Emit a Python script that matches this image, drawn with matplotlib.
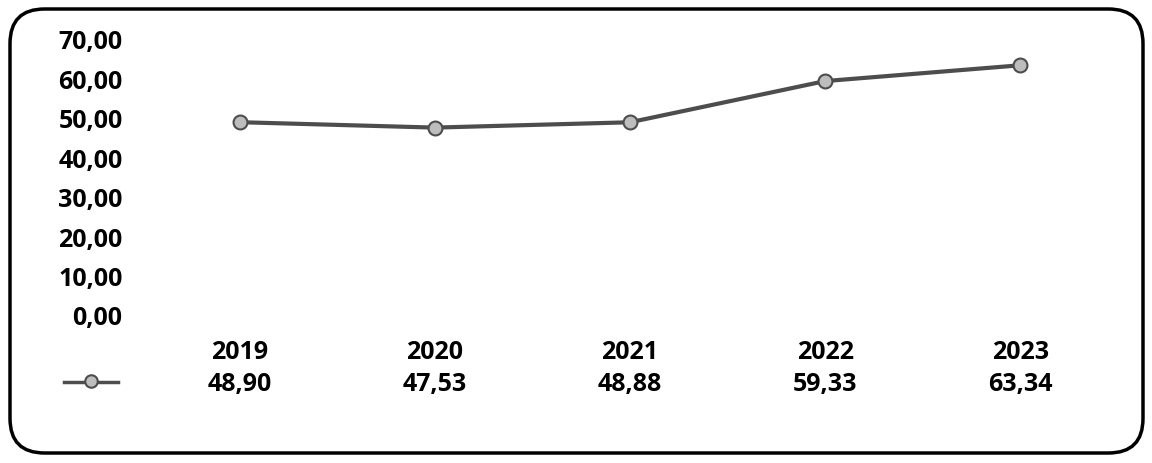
import matplotlib.pyplot as plt
import matplotlib.transforms as mtransforms
from matplotlib.patches import FancyBboxPatch
from matplotlib.lines import Line2D

# Data
years = ["2019", "2020", "2021", "2022", "2023"]
values = [48.90, 47.53, 48.88, 59.33, 63.34]
yticks = [0, 10, 20, 30, 40, 50, 60, 70]

plt.rcParams["font.family"] = ["Open Sans", "DejaVu Sans"]
plt.rcParams["font.weight"] = "bold"
FS = 18

W, H = 1152, 464
fig = plt.figure(figsize=(W / 100, H / 100), dpi=100)

# Rounded frame
frame = FancyBboxPatch((10 / W, 10 / H), 1133 / W, 444 / H,
                       boxstyle="round,pad=0,rounding_size=0.03",
                       transform=fig.transFigure, fill=False,
                       edgecolor="black", linewidth=2.5,
                       mutation_aspect=W / H)
fig.patches.append(frame)

ax = fig.add_axes([142 / W, 1 - 316 / H, (1118 - 142) / W, (316 - 40) / H])
x = list(range(len(years)))
ax.plot(x, values, color="#4d4d4d", linewidth=3, marker="o", markersize=10,
        markerfacecolor="#bdbdbd", markeredgecolor="#4d4d4d", markeredgewidth=1.5)
ax.set_xlim(-0.5, len(years) - 0.5)
ax.set_ylim(0, 70)
ax.set_yticks(yticks)
ax.set_yticklabels([f"{v:.2f}".replace(".", ",") for v in yticks],
                   fontsize=FS, fontweight="bold")
ax.tick_params(axis="y", length=0, pad=14)
ax.set_xticks([])
for s in ax.spines.values():
    s.set_visible(False)

# Data table under the chart
trans = mtransforms.blended_transform_factory(ax.transData, fig.transFigure)
for i, (yr, v) in enumerate(zip(years, values)):
    ax.text(i, 1 - 353 / H, yr, transform=trans, ha="center", va="center",
            fontsize=FS, fontweight="bold")
    ax.text(i, 1 - 385 / H, f"{v:.2f}".replace(".", ","), transform=trans,
            ha="center", va="center", fontsize=FS, fontweight="bold")

# Legend key
fig.lines.append(Line2D([64 / W, 118 / W], [1 - 383 / H, 1 - 383 / H],
                        transform=fig.transFigure, color="#4d4d4d", linewidth=2.5))
fig.lines.append(Line2D([91 / W], [1 - 382 / H], transform=fig.transFigure,
                        color="#4d4d4d", marker="o", markersize=9,
                        markerfacecolor="#bdbdbd", markeredgewidth=1.5))

fig.savefig("out.png", dpi=100)
